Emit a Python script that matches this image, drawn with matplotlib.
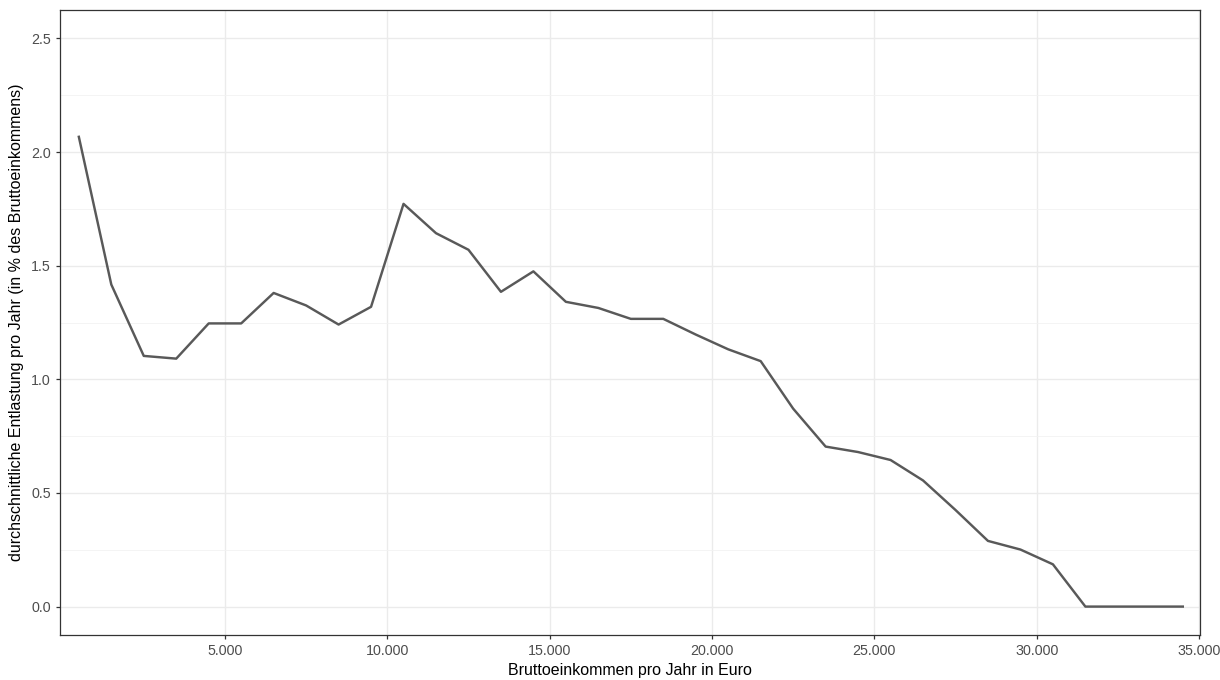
import matplotlib
matplotlib.use("Agg")
import matplotlib.pyplot as plt
from matplotlib.ticker import FuncFormatter, MultipleLocator

plt.rcParams['font.family'] = ['Liberation Sans', 'DejaVu Sans']

# Bruttoeinkommen (Klassenmitte) und durchschnittliche Entlastung in %
einkommen = [500, 1500, 2500, 3500, 4500, 5500, 6500, 7500, 8500, 9500,
             10500, 11500, 12500, 13500, 14500, 15500, 16500, 17500, 18500, 19500,
             20500, 21500, 22500, 23500, 24500, 25500, 26500, 27500, 28500, 29500,
             30500, 31500, 32500, 33500, 34500]
entlastung = [2.067, 1.417, 1.103, 1.091, 1.246, 1.246, 1.380, 1.325, 1.241, 1.319,
              1.772, 1.643, 1.570, 1.385, 1.475, 1.341, 1.314, 1.266, 1.266, 1.197,
              1.132, 1.080, 0.871, 0.704, 0.680, 0.645, 0.555, 0.425, 0.289, 0.251,
              0.186, 0.0, 0.0, 0.0, 0.0]

x_ticks = [5000, 10000, 15000, 20000, 25000, 30000, 35000]
y_ticks = [0.0, 0.5, 1.0, 1.5, 2.0, 2.5]

fig = plt.figure(figsize=(12.2, 6.8), dpi=100)
ax = fig.add_axes([60 / 1220, 1 - 635 / 680, 1140 / 1220, 625 / 680])

ax.plot(einkommen, entlastung, color='#595959', linewidth=1.75, solid_joinstyle='round', zorder=3)

ax.set_xlim(-80, 35030)
ax.set_ylim(-0.125, 2.625)
ax.set_xticks(x_ticks)
ax.set_yticks(y_ticks)
ax.yaxis.set_minor_locator(MultipleLocator(0.25))
ax.xaxis.set_major_formatter(FuncFormatter(lambda v, p: f"{int(v):,}".replace(',', '.')))
ax.yaxis.set_major_formatter(FuncFormatter(lambda v, p: f"{v:.1f}"))

ax.grid(True, which='major', color='#EBEBEB', linewidth=1.0, zorder=0)
ax.grid(True, which='minor', axis='y', color='#F2F2F2', linewidth=0.6, zorder=0)
ax.set_axisbelow(True)

for s in ax.spines.values():
    s.set_color('#333333')
    s.set_linewidth(0.9)

ax.tick_params(which='major', length=3, width=0.9, color='#333333',
               labelsize=10.3, labelcolor='#4D4D4D', pad=3.5)
ax.tick_params(which='minor', length=0)

ax.set_xlabel('Bruttoeinkommen pro Jahr in Euro', fontsize=11.5, color='black', labelpad=3.5)
ax.set_ylabel('durchschnittliche Entlastung pro Jahr (in % des Bruttoeinkommens)',
              fontsize=11.5, color='black', labelpad=5)

fig.savefig('out.png', dpi=100)
